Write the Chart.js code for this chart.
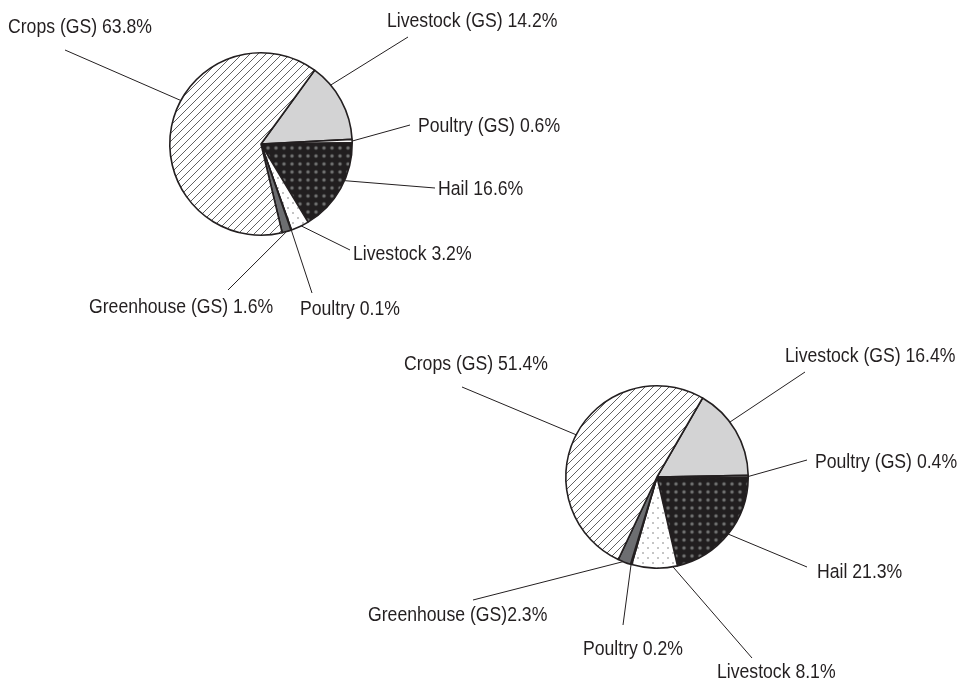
<!DOCTYPE html>
<html>
<head>
<meta charset="utf-8">
<title>Pie charts</title>
<script src="https://cdn.jsdelivr.net/npm/chart.js@4.4.1/dist/chart.umd.min.js"></script>
<style>
  html,body{margin:0;padding:0;background:#fff;}
  body{position:relative;width:965px;height:683px;overflow:hidden;}
  canvas{position:absolute;left:0;top:0;}
</style>
</head>
<body>
<canvas id="pieTop" width="965" height="683"></canvas>
<canvas id="pieBottom" width="965" height="683"></canvas>
<script>
// ═══════════ DATA ═══════════
const categories=['Livestock (GS)','Poultry (GS)','Hail','Livestock','Poultry','Greenhouse (GS)','Crops (GS)'];
const valuesTop=[14.2,0.6,16.6,3.2,0.1,1.6,63.8];
const valuesBottom=[16.4,0.4,21.3,8.1,0.2,2.3,51.4];
// gap between name and value in each printed label
const sepTop=[' ',' ',' ',' ',' ',' ',' '];
const sepBottom=[' ',' ',' ',' ',' ','',' '];

// ═══════════ FILLS ═══════════
const FONT="20.5px 'Liberation Sans',Arial,sans-serif";
const SQUEEZE=0.86; // narrow the face to look like a condensed grotesque
const INK='#231f20';

function tile(w,h,draw){
  const c=document.createElement('canvas');
  c.width=w;c.height=h;
  draw(c.getContext('2d'),w,h);
  return document.createElement('canvas').getContext('2d').createPattern(c,'repeat');
}
const hatch=tile(8,8,(g,w,h)=>{
  g.fillStyle='#fff';g.fillRect(0,0,w,h);
  g.strokeStyle='#505050';g.lineWidth=0.9;
  g.beginPath();
  g.moveTo(-1,h+1);g.lineTo(w+1,-1);
  g.moveTo(-1,1);g.lineTo(1,-1);
  g.moveTo(w-1,h+1);g.lineTo(w+1,h-1);
  g.stroke();
});
const dotsDark=tile(8,8,(g,w,h)=>{
  g.fillStyle='#211e1f';g.fillRect(0,0,w,h);
  const rg=g.createRadialGradient(4,4,0,4,4,3);
  rg.addColorStop(0,'#8c8c8c');rg.addColorStop(0.5,'#4e4e4e');rg.addColorStop(1,'rgba(33,30,31,0)');
  g.fillStyle=rg;g.fillRect(0,0,w,h);
});
const dotsLight=tile(10,10,(g,w,h)=>{
  g.fillStyle='#fff';g.fillRect(0,0,w,h);
  g.fillStyle='#c4c4c4';
  g.fillRect(2,2,2,2);g.fillRect(7,7,2,2);
});
const fills=['#d3d3d4','#ffffff',dotsDark,dotsLight,'#ffffff','#6d6e71',hatch];

// ═══════════ LABEL LAYOUT ═══════════
// t = where along the slice the leader leaves the rim; end = outer end of leader; text = label origin (baseline)
const leadersTop=[
  {t:0.27,end:[408,37],text:[387,27]},
  {t:0.5,end:[410,125],text:[418,132]},
  {t:0.41,end:[435,188],text:[438,195]},
  {t:0.43,end:[350,250],text:[353,260]},
  {t:0.5,end:[312,293],text:[300,315]},
  {t:0.5,end:[228,290],text:[89,313]},
  {t:0.575,end:[65,50],text:[8,33]}
];
const leadersBottom=[
  {t:0.39,end:[805,372],text:[785,362]},
  {t:0.5,end:[807,460],text:[815,468]},
  {t:0.5,end:[807,567],text:[817,578]},
  {t:0.1,end:[752,658],text:[717,678]},
  {t:0.5,end:[623,625],text:[583,655]},
  {t:0.6,end:[473,600],text:[368,621]},
  {t:0.5,end:[462,387],text:[404,370]}
];

const leaderPlugin={
  id:'leaders',
  afterDraw(chart,args,opts){
    const ctx=chart.ctx;
    const meta=chart.getDatasetMeta(0);
    const vals=chart.data.datasets[0].data;
    ctx.save();
    ctx.strokeStyle=INK;ctx.lineWidth=1;
    ctx.fillStyle=INK;ctx.font=FONT;
    ctx.textBaseline='alphabetic';ctx.textAlign='left';
    meta.data.forEach((arc,i)=>{
      const L=opts.layout[i];
      const p=arc.getProps(['x','y','startAngle','endAngle','outerRadius'],true);
      const a=p.startAngle+(p.endAngle-p.startAngle)*L.t;
      const sx=p.x+Math.cos(a)*p.outerRadius,sy=p.y+Math.sin(a)*p.outerRadius;
      ctx.beginPath();ctx.moveTo(sx,sy);ctx.lineTo(L.end[0],L.end[1]);ctx.stroke();
      ctx.save();
      ctx.translate(L.text[0],L.text[1]);ctx.scale(SQUEEZE,1);
      ctx.fillText(chart.data.labels[i]+opts.sep[i]+vals[i].toFixed(1)+'%',0,0);
      ctx.restore();
    });
    ctx.restore();
  }
};

function makePie(id,values,rotation,padding,layout,sep){
  return new Chart(document.getElementById(id),{
    type:'pie',
    data:{labels:categories,datasets:[{data:values,backgroundColor:fills,borderColor:INK,borderWidth:1.6}]},
    options:{
      responsive:false,animation:false,rotation:rotation,
      layout:{padding:padding},
      events:[],
      plugins:{legend:{display:false},tooltip:{enabled:false},leaders:{layout:layout,sep:sep}}
    },
    plugins:[leaderPlugin]
  });
}

makePie('pieTop',valuesTop,36,{left:169,top:52,right:612,bottom:447},leadersTop,sepTop);
makePie('pieBottom',valuesBottom,30,{left:565,top:385,right:216,bottom:114},leadersBottom,sepBottom);
</script>
</body>
</html>
